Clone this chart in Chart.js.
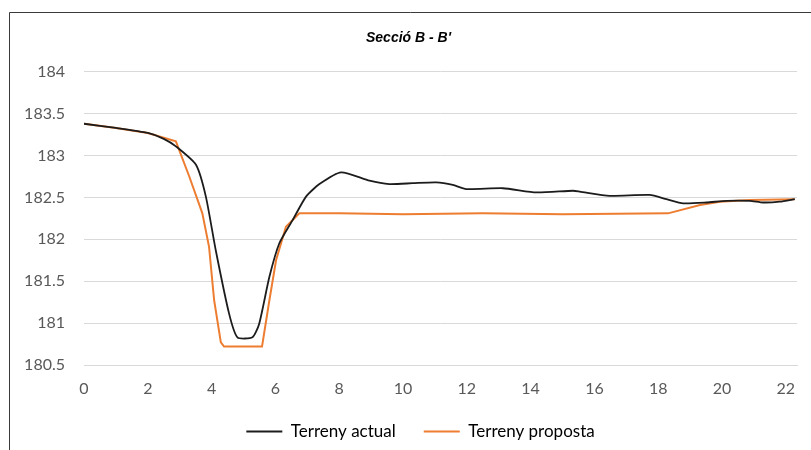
<!DOCTYPE html>
<html>
<head>
<meta charset="utf-8">
<script src="https://cdn.jsdelivr.net/npm/chart.js@4"></script>
<style>
  html, body { margin: 0; padding: 0; background: #fff; }
  #wrap { width: 811px; height: 450px; position: relative; }
</style>
</head>
<body>
<div id="wrap"><canvas id="seccio"></canvas></div>
<script>
// Terreny actual (black) - distance / level
const actualX = [0, 1, 2, 2.5, 2.88, 3.51, 3.82, 4.13, 4.55, 4.81, 5.28, 5.49, 5.81, 6.12, 6.54, 6.96, 7.38, 8.06, 8.95, 9.57, 10.3, 11.04, 11.56, 11.98, 13.13, 14.18, 15.33, 15.54, 16.48, 17.73, 18.26, 18.78, 19.51, 20.14, 20.87, 21.29, 21.81, 22.28];
const actualY = [183.38, 183.33, 183.27, 183.2, 183.11, 182.89, 182.51, 181.87, 181.11, 180.83, 180.83, 180.99, 181.55, 181.95, 182.23, 182.51, 182.66, 182.8, 182.7, 182.66, 182.67, 182.68, 182.65, 182.6, 182.61, 182.56, 182.58, 182.57, 182.52, 182.53, 182.48, 182.43, 182.44, 182.46, 182.46, 182.44, 182.45, 182.48];

// Terreny proposta (orange)
const propostaX = [0, 1, 2, 2.88, 3.3, 3.71, 3.92, 4.08, 4.29, 4.39, 5.58, 5.81, 6.02, 6.33, 6.75, 8, 10, 12.5, 15, 18.31, 19.31, 19.93, 20.87, 22.28];
const propostaY = [183.38, 183.33, 183.27, 183.17, 182.75, 182.31, 181.91, 181.27, 180.77, 180.72, 180.72, 181.27, 181.75, 182.15, 182.31, 182.31, 182.3, 182.31, 182.3, 182.31, 182.41, 182.45, 182.47, 182.48];

const seriesNames = ['Terreny actual', 'Terreny proposta'];
const titleText = "Secció B - B'";

const toPoints = (xs, ys) => xs.map((x, i) => ({ x: x, y: ys[i] }));

// draws the outer frame of the excel chart (cropped on right/bottom)
const framePlugin = {
  id: 'frame',
  afterLayout(chart) {
    // the original chart is cropped on the right, so its title/legend sit a bit right of centre
    chart.legend.left += 22;
    chart.legend.right += 22;
    chart.titleBlock.left += 10;
    chart.titleBlock.right += 10;
  },
  beforeDraw(chart) {
    const ctx = chart.ctx;
    ctx.save();
    ctx.fillStyle = '#fff';
    ctx.fillRect(0, 0, chart.width, chart.height);
    ctx.strokeStyle = '#3a3a3a';
    ctx.lineWidth = 1;
    ctx.beginPath();
    ctx.moveTo(9.5, chart.height);
    ctx.lineTo(9.5, 12.5);
    ctx.lineTo(chart.width, 12.5);
    ctx.stroke();
    ctx.restore();
  }
};

const ctx = document.getElementById('seccio').getContext('2d');

new Chart(ctx, {
  type: 'scatter',
  data: {
    datasets: [{
      label: seriesNames[0],
      data: toPoints(actualX, actualY),
      showLine: true,
      borderColor: '#1c1c1c',
      backgroundColor: '#1c1c1c',
      borderWidth: 1.8,
      pointRadius: 0,
      tension: 0.2
    }, {
      label: seriesNames[1],
      data: toPoints(propostaX, propostaY),
      showLine: true,
      borderColor: '#ED7D31',
      backgroundColor: '#ED7D31',
      borderWidth: 2,
      pointRadius: 0,
      tension: 0
    }]
  },
  options: {
    responsive: true,
    maintainAspectRatio: false,
    animation: false,
    layout: { padding: { left: 0, right: 14, top: 0, bottom: 0 } },
    plugins: {
      title: {
        display: true,
        text: titleText,
        color: '#000',
        font: { family: "'Liberation Sans', Arial, sans-serif", size: 14, weight: 'bold', style: 'italic' },
        padding: { top: 30, bottom: 25 }
      },
      legend: {
        position: 'bottom',
        labels: {
          color: '#000',
          font: { family: "Lato, sans-serif", size: 17 },
          usePointStyle: true,
          pointStyle: 'line',
          pointStyleWidth: 36,
          padding: 28
        }
      },
      tooltip: { enabled: false }
    },
    scales: {
      x: {
        type: 'linear',
        min: 0,
        max: 22.35,
        afterFit(scale) { scale.height = 30; },
        grid: { display: false, drawTicks: false },
        border: { display: true, color: '#d9d9d9', width: 1 },
        ticks: {
          stepSize: 2,
          includeBounds: false,
          padding: 14,
          color: '#595959',
          font: { family: "Lato, sans-serif", size: 16 }
        }
      },
      y: {
        min: 180.5,
        max: 184,
        afterFit(scale) { scale.width = 84; },
        grid: { color: '#d9d9d9', lineWidth: 1, drawTicks: false },
        border: { display: false },
        ticks: {
          stepSize: 0.5,
          padding: 19,
          color: '#595959',
          font: { family: "Lato, sans-serif", size: 16 },
          callback: v => v
        }
      }
    }
  },
  plugins: [framePlugin]
});
</script>
</body>
</html>
